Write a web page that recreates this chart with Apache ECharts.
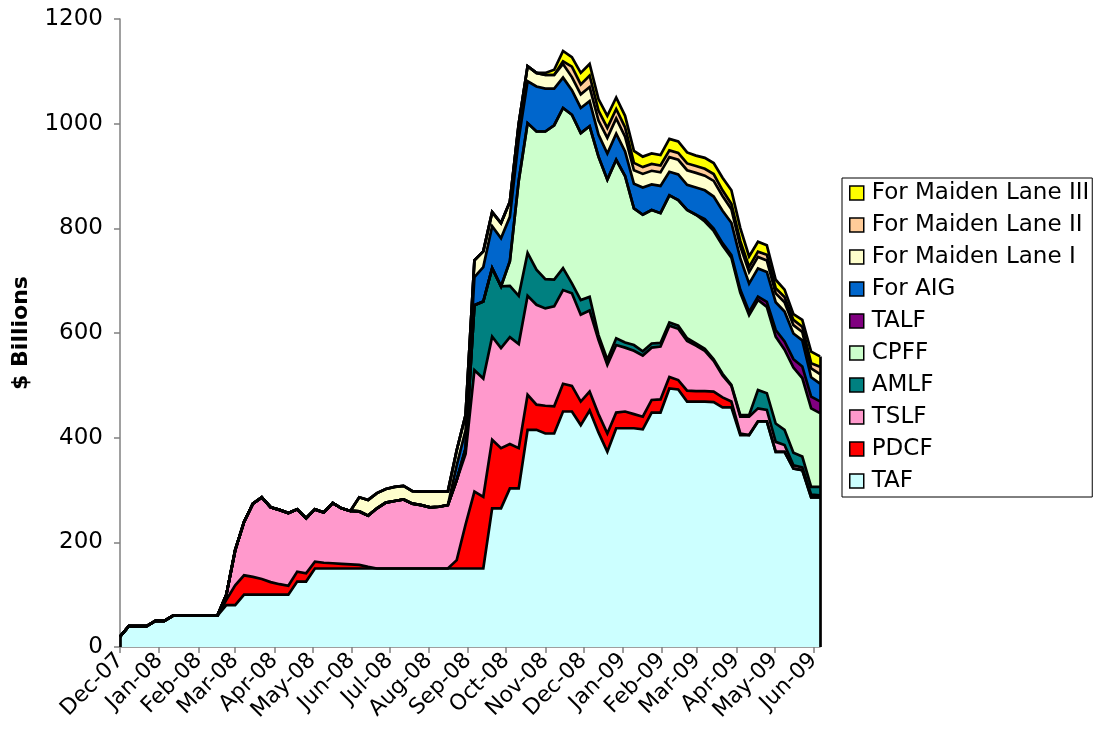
<!DOCTYPE html>
<html>
<head>
<meta charset="utf-8">
<script src="https://cdn.jsdelivr.net/npm/echarts@6/dist/echarts.min.js"></script>
<style>
html, body { margin: 0; padding: 0; background: #fff; }
#main { width: 1095px; height: 740px; }
</style>
</head>
<body>
<div id="main"></div>
<script>
// weekly dates (Wednesdays)
var weeks = [
  '2007-12-19','2007-12-26',
  '2008-01-02','2008-01-09','2008-01-16','2008-01-23','2008-01-30',
  '2008-02-06','2008-02-13','2008-02-20','2008-02-27',
  '2008-03-05','2008-03-12','2008-03-19','2008-03-26',
  '2008-04-02','2008-04-09','2008-04-16','2008-04-23','2008-04-30',
  '2008-05-07','2008-05-14','2008-05-21','2008-05-28',
  '2008-06-04','2008-06-11','2008-06-18','2008-06-25',
  '2008-07-02','2008-07-09','2008-07-16','2008-07-23','2008-07-30',
  '2008-08-06','2008-08-13','2008-08-20','2008-08-27',
  '2008-09-03','2008-09-10','2008-09-17','2008-09-24',
  '2008-10-01','2008-10-08','2008-10-15','2008-10-22','2008-10-29',
  '2008-11-05','2008-11-12','2008-11-19','2008-11-26',
  '2008-12-03','2008-12-10','2008-12-17','2008-12-24','2008-12-31',
  '2009-01-07','2009-01-14','2009-01-21','2009-01-28',
  '2009-02-04','2009-02-11','2009-02-18','2009-02-25',
  '2009-03-04','2009-03-11','2009-03-18','2009-03-25',
  '2009-04-01','2009-04-08','2009-04-15','2009-04-22','2009-04-29',
  '2009-05-06','2009-05-13','2009-05-20','2009-05-27',
  '2009-06-03','2009-06-10','2009-06-17','2009-06-24'
];

// axis ticks, one a month
var tickDates = ['2007-12-19','2008-01-19','2008-02-19','2008-03-19','2008-04-19','2008-05-19',
  '2008-06-19','2008-07-19','2008-08-19','2008-09-19','2008-10-19','2008-11-19','2008-12-19',
  '2009-01-19','2009-02-19','2009-03-19','2009-04-19','2009-05-19','2009-06-19'];
var tickLabels = ['Dec-07','Jan-08','Feb-08','Mar-08','Apr-08','May-08','Jun-08','Jul-08','Aug-08',
  'Sep-08','Oct-08','Nov-08','Dec-08','Jan-09','Feb-09','Mar-09','Apr-09','May-09','Jun-09'];

// $ billions
var taf = [20,40,40,40,50,50,60,60,60,60,60,60,80,80,100,100,100,100,100,100,
  125,125,150,150,150,150,150,150,150,150,150,150,150,150,150,150,150,150,150,150,
  150,150,265,265,303,303,415,415,408,408,450,450,424,452,410,373,418,418,418,416,
  448,448,494,492,469,469,469,468,458,458,405,405,431,431,373,373,341,338,286,286];
var pdcf = [0,0,0,0,0,0,0,0,0,0,0,0,10,38,37,34,30,24,20,17,
  19,16,13,11,10,9,8,7,3,0,0,0,0,0,0,0,0,0,16,84,
  147,137,131,115,85,77,67,48,53,52,53,49,45,36,35,35,30,32,27,24,
  24,25,22,18,21,20,20,20,19,11,3,0,0,0,0,0,0,0,0,0];
var tslf = [0,0,0,0,0,0,0,0,0,0,0,0,10,67,102,140,156,143,142,139,
  119,105,100,96,115,106,102,102,98,115,126,129,132,124,121,117,118,121,153,135,
  232,226,197,191,204,199,189,191,186,191,179,177,166,155,142,131,129,122,121,117,
  100,101,98,98,95,87,77,59,42,30,32,35,25,22,19,13,6,5,5,4];
var amlf = [0,0,0,0,0,0,0,0,0,0,0,0,0,0,0,0,0,0,0,0,
  0,0,0,0,0,0,0,0,0,0,0,0,0,0,0,0,0,0,0,10,
  124,147,131,118,98,92,82,67,56,51,42,19,28,26,9,10,13,10,11,8,
  8,7,6,6,5,4,4,3,3,2,3,3,35,32,35,29,24,21,15,16];
var cpff = [0,0,0,0,0,0,0,0,0,0,0,0,0,0,0,0,0,0,0,0,
  0,0,0,0,0,0,0,0,0,0,0,0,0,0,0,0,0,0,0,0,
  0,0,0,0,47,220,248,264,282,295,306,322,319,326,341,344,341,318,261,261,
  255,248,243,240,245,246,243,245,245,243,234,191,172,165,166,153,163,150,150,141];
var talf = [0,0,0,0,0,0,0,0,0,0,0,0,0,0,0,0,0,0,0,0,
  0,0,0,0,0,0,0,0,0,0,0,0,0,0,0,0,0,0,0,0,
  0,0,0,0,0,0,0,0,0,0,0,0,0,0,0,0,0,0,0,0,
  0,0,0,0,0,0,4.7,4.7,4.7,4.7,6,6.4,6.4,9.6,12.8,15.9,16,22,22.4,22.3];
var aig = [0,0,0,0,0,0,0,0,0,0,0,0,0,0,0,0,0,0,0,0,
  0,0,0,0,0,0,0,0,0,0,0,0,0,0,0,0,0,0,28,35,
  54,66,80,92,85,80,80,86,82,70,58,47,48,48,42,50,50,47,47,52,
  49,52,45,49,48,52,55,61,62,62,60,54,54,57,53,57,49,50,37,34];
var ml1 = [0,0,0,0,0,0,0,0,0,0,0,0,0,0,0,0,0,0,0,0,
  0,0,0,0,0,0,0,27,30,29,26,27,26,24,26,30,29,26,29,29,
  32,30,27,29,29,29,29,26,26,26,26,25,26,27,27,30,29,28,26,26,
  26,26,28,28,28,28,28,30,28,26,23,22,22,22,17,18,16,16,17,18];
var ml2 = [0,0,0,0,0,0,0,0,0,0,0,0,0,0,0,0,0,0,0,0,
  0,0,0,0,0,0,0,0,0,0,0,0,0,0,0,0,0,0,0,0,
  0,0,0,0,0,0,0,0,0,0,5,20,19,22,19,19,18,18,14,13,
  13,13,13,13,13,13,13,13,11,10,10,10,10,11,10,10,10,10,10,14];
var ml3 = [0,0,0,0,0,0,0,0,0,0,0,0,0,0,0,0,0,0,0,0,
  0,0,0,0,0,0,0,0,0,0,0,0,0,0,0,0,0,0,0,0,
  0,0,0,0,0,0,0,0,4,10,20,18,22,22,22,23,22,22,23,20,
  20,20,22,22,21,20,21,21,24,26,25,20,19,18,16,14,11,13,22,20];

var names = ['TAF','PDCF','TSLF','AMLF','CPFF','TALF','For AIG',
  'For Maiden Lane I','For Maiden Lane II','For Maiden Lane III'];
var values = [taf, pdcf, tslf, amlf, cpff, talf, aig, ml1, ml2, ml3];
var colors = ['#CCFFFF','#FF0000','#FF99CC','#008080','#CCFFCC','#800080','#0066CC',
  '#FFFFCC','#FFCC99','#FFFF00'];

// days since the first week
function day(s) {
  return Math.round((Date.parse(s + 'T00:00:00Z') - Date.parse(weeks[0] + 'T00:00:00Z')) / 86400000);
}
var xs = weeks.map(day);
var tickVals = tickDates.map(day);
var font = 'DejaVu Sans';

// rows are [value, day] so that the stack runs on the value
function rows(arr) { return xs.map(function (x, j) { return [arr[j], x]; }); }

var series = [];
// filled areas
names.forEach(function (n, i) {
  series.push({
    name: n, type: 'line', stack: 'area', symbol: 'none', color: colors[i],
    encode: { x: 1, y: 0 },
    lineStyle: { width: 0 }, areaStyle: { color: colors[i], opacity: 1 },
    silent: true, z: 2,
    data: rows(values[i])
  });
});
// black outlines on top
names.forEach(function (n, i) {
  series.push({
    name: n + ' edge', type: 'line', stack: 'edge', symbol: 'none',
    encode: { x: 1, y: 0 },
    lineStyle: { color: '#000', width: 2.7, join: 'miter' },
    silent: true, z: 3,
    data: rows(values[i])
  });
});
var last = xs.length - 1;
var total = values.reduce(function (s, a) { return s + a[last]; }, 0);
series[series.length - 1].markLine = {
  silent: true, symbol: 'none', label: { show: false },
  lineStyle: { color: '#000', width: 2.7, type: 'solid' },
  data: [
    [{ coord: [xs[last], 0] }, { coord: [xs[last], total] }],
    [{ coord: [xs[0], 0] }, { coord: [xs[0], taf[0]] }]
  ]
};

var myChart = echarts.init(document.getElementById('main'));
myChart.setOption({
  animation: false,
  backgroundColor: '#fff',
  grid: { left: 120, right: 275, top: 19, bottom: 93 },
  legend: {
    orient: 'vertical', left: 842, top: 178,
    data: names.slice().reverse(),
    icon: 'rect', itemWidth: 14, itemHeight: 14, itemGap: 8,
    padding: [3, 3, 4, 7],
    borderColor: '#000', borderWidth: 1,
    itemStyle: { borderColor: '#000', borderWidth: 1.5 },
    textStyle: { fontFamily: font, fontSize: 23, color: '#000', lineHeight: 24, padding: [0, 0, 0, 3] }
  },
  xAxis: {
    type: 'value',
    min: 0, max: xs[last],
    axisLine: { lineStyle: { color: '#808080', width: 1.5 } },
    axisTick: { show: true, customValues: tickVals, length: 6, lineStyle: { color: '#808080', width: 1.5 } },
    axisLabel: {
      customValues: tickVals, rotate: 45, margin: 10,
      fontFamily: font, fontSize: 22, color: '#000',
      formatter: function (v) { return tickLabels[tickVals.indexOf(v)]; }
    },
    splitLine: { show: false }
  },
  yAxis: {
    type: 'value', min: 0, max: 1200, interval: 200,
    name: '$ Billions', nameLocation: 'middle', nameGap: 88,
    nameTextStyle: { fontFamily: font, fontSize: 22, fontWeight: 'bold', color: '#000' },
    axisLine: { show: true, lineStyle: { color: '#808080', width: 1.5 } },
    axisTick: { show: true, length: 6, lineStyle: { color: '#808080', width: 1.5 } },
    axisLabel: {
      fontFamily: font, fontSize: 23, color: '#000', margin: 17,
      formatter: function (v) { return String(v); }
    },
    splitLine: { show: false }
  },
  series: series
});
</script>
</body>
</html>
